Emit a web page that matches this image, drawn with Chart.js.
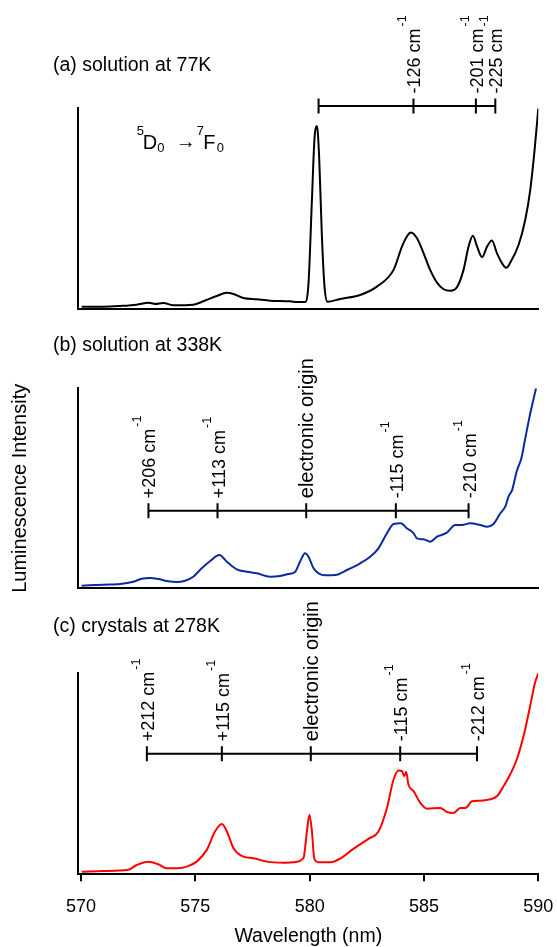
<!DOCTYPE html>
<html><head><meta charset="utf-8">
<script src="https://cdn.jsdelivr.net/npm/chart.js@4.4.1/dist/chart.umd.min.js"></script>
<style>
html,body{margin:0;padding:0;background:#fff;overflow:hidden;}
#wrap{position:relative;width:557px;height:947px;overflow:hidden;background:#fff;}
canvas{position:absolute;left:0;}
</style></head><body>
<div id="wrap">
<canvas id="cA" width="557" height="320" style="top:0px"></canvas>
<canvas id="cB" width="557" height="280" style="top:320px"></canvas>
<canvas id="cC" width="557" height="357" style="top:590px"></canvas>
</div>
<script>
const FONT = '"Liberation Sans", Arial, Helvetica, sans-serif';

// ---- data (wavelength nm, intensity arb. units) ----
const wavelengthA = [570.03,570.98,571.71,572.44,572.95,573.24,573.6,574.04,574.91,575.35,575.94,576.38,576.67,577.1,577.69,578.27,579.15,579.29,579.8,579.95,580.1,580.21,580.32,580.42,580.53,580.65,580.78,581.33,582.21,582.94,583.67,584.04,584.25,584.43,584.69,584.98,585.27,585.57,585.86,586.15,586.44,586.73,586.95,587.14,587.32,587.54,587.76,587.97,588.19,588.46,588.6,588.77,589.14,589.43,589.65,589.84,590];
const intensityA  = [2.3,2.3,3,4.3,6.3,5,6,3.7,4.3,7.7,13,16.3,15,11,9.7,8.3,7.7,7.3,7,25.7,109,169,182.3,149,75.7,22.3,7.3,10,14,22.3,39,62.3,72.3,76.3,70.7,55.7,39,26.3,19.7,18.3,21.7,39,62.3,73,62.3,51.7,62.3,68.3,55.7,44,41,46,64,89,119,159,200];

const wavelengthB = [570.03,570.98,571.71,572.29,572.66,573.02,573.38,573.75,574.19,574.55,574.91,575.28,575.65,576.05,576.38,576.81,577.25,577.69,578.27,578.71,579.07,579.37,579.58,579.8,579.95,580.17,580.39,580.68,581.12,581.63,582.21,582.65,583.01,583.38,583.67,583.99,584.25,584.55,584.69,584.98,585.27,585.57,586.0,586.37,586.66,587.02,587.46,587.76,588.04,588.34,588.56,588.7,588.85,589.07,589.26,589.43,589.65,589.9];
const intensityB  = [2.6,3.6,4.3,6.6,9.6,10.3,9.3,7.3,6.3,7.6,11.6,20,27.3,33.3,26.6,19,16.6,15,11.6,12.3,14.3,16.6,26.6,35,31.6,20,15,13,13.3,18.3,25,31.6,40,55,64.3,65,60,55,50,49,46.6,51.6,55.6,63.3,63.3,65,63.3,61.6,64.3,75,82,92,98,118,130,150,175,200];

const wavelengthC = [570.03,570.98,572.07,572.44,572.95,573.38,573.75,574.19,574.63,575.06,575.5,575.86,576.16,576.38,576.67,577.1,577.54,578.13,578.85,579.29,579.73,579.88,579.99,580.1,580.2,580.39,580.9,581.41,581.85,582.57,583.01,583.38,583.67,583.89,584.04,584.14,584.22,584.32,584.55,584.84,585.13,585.71,586.0,586.29,586.59,586.81,587.1,587.46,587.83,588.19,588.48,588.77,589.07,589.36,589.65,589.85,590];
const intensityC  = [2.6,3.3,4.6,9.3,12.6,10,6,6,7.6,12.6,24.3,42.6,50,42.6,26,17.6,16,12.6,11.6,12,16,42.6,59.3,42.6,16,12,12,16.6,24.3,35.3,42.6,66,94.3,103.3,102.6,97.6,102,89.3,82.6,71,65.3,66,62,61,66,66,72.6,73.3,74.3,77.6,87.6,99.3,115,138,168,190,200];

const xTickValues = [570,575,580,585,590];

// annotation brackets (nm) and labels
const bracketA = [580.39,584.54,587.27,588.12];
const bracketLabelsA = ['', '-126 cm', '-201 cm', '-225 cm'];
const bracketB = [572.95,575.97,579.85,583.77,586.95];
const bracketLabelsB = ['+206 cm','+113 cm','electronic origin','-115 cm','-210 cm'];
const bracketC = [572.88,576.16,580.05,583.96,587.32];
const bracketLabelsC = ['+212 cm','+115 cm','electronic origin','-115 cm','-212 cm'];
const bracketLevel = {A:202.3, B:77.6, C:120};

const panelTitles = {A:'(a) solution at 77K', B:'(b) solution at 338K', C:'(c) crystals at 278K'};

const X_MIN = 569.882, X_MAX = 590;

function rotLabel(ctx, x, yStart, text) {
  ctx.save();
  ctx.translate(x, yStart);
  ctx.rotate(-Math.PI/2);
  ctx.fillStyle = '#000';
  const isCm = text.endsWith('cm');
  ctx.font = `${isCm ? 18 : 20}px ${FONT}`;
  ctx.textAlign = 'left';
  ctx.textBaseline = 'alphabetic';
  ctx.fillText(text, 0, 7);
  if (isCm) {
    const w = ctx.measureText(text).width;
    ctx.font = `12.5px ${FONT}`;
    ctx.fillText('-1', w + 2, 7 - 14);
  }
  ctx.restore();
}

function annotPlugin(key, brackets, labels, titleY, extra) {
  return {
    id: 'annot' + key,
    afterDraw(chart) {
      const ctx = chart.ctx, xs = chart.scales.x, ys = chart.scales.y;
      const yb = ys.getPixelForValue(bracketLevel[key]);
      const px = brackets.map(v => xs.getPixelForValue(v));
      ctx.save();
      ctx.strokeStyle = '#000';
      ctx.lineWidth = 2;
      ctx.beginPath();
      ctx.moveTo(px[0], yb); ctx.lineTo(px[px.length-1], yb);
      px.forEach(p => { ctx.moveTo(p, yb - 7.5); ctx.lineTo(p, yb + 7.5); });
      ctx.stroke();
      labels.forEach((t, i) => { if (t) rotLabel(ctx, px[i], yb - 7.5 - 5, t); });
      // panel title
      ctx.fillStyle = '#000';
      ctx.font = `19.5px ${FONT}`;
      ctx.textAlign = 'left';
      ctx.textBaseline = 'middle';
      ctx.fillText(panelTitles[key], 53, titleY);
      if (extra) extra(ctx, xs, ys);
      ctx.restore();
    }
  };
}

function transitionLabel(ctx, xs, ys) {
  const x0 = xs.getPixelForValue(572.44);
  const yb = ys.getPixelForValue(159);
  ctx.fillStyle = '#000';
  ctx.textAlign = 'left';
  ctx.textBaseline = 'alphabetic';
  const big = `20px ${FONT}`, small = `13px ${FONT}`;
  ctx.font = small; ctx.fillText('5', x0, yb - 14);
  ctx.font = big;   ctx.fillText('D', x0 + 6, yb);
  ctx.font = small; ctx.fillText('0', x0 + 20.5, yb + 3);
  ctx.font = big;   ctx.fillText('\u2192', x0 + 39, yb - 1);
  ctx.font = small; ctx.fillText('7', x0 + 60, yb - 14);
  ctx.font = big;   ctx.fillText('F', x0 + 66.5, yb);
  ctx.font = small; ctx.fillText('0', x0 + 80, yb + 3);
}

function makeChart(id, xs, ys, color, opts, plugin) {
  return new Chart(document.getElementById(id), {
    type: 'line',
    data: { datasets: [{
      data: xs.map((x, i) => ({x, y: ys[i]})),
      borderColor: color, borderWidth: 2, pointRadius: 0, fill: false,
      cubicInterpolationMode: 'monotone'
    }]},
    options: {
      responsive: false, animation: false, events: [],
      layout: { padding: opts.padding },
      plugins: { legend: {display:false}, tooltip: {enabled:false}, title: {display:false} },
      scales: {
        x: {
          type: 'linear', min: X_MIN, max: X_MAX,
          afterBuildTicks: ax => { ax.ticks = xTickValues.map(v => ({value: v})); },
          border: {display: true, color: '#000', width: 2},
          grid: {display: !!opts.xTicks, drawOnChartArea: false, drawTicks: !!opts.xTicks, tickLength: 7, color: '#000', lineWidth: 2},
          ticks: {display: !!opts.xTicks, autoSkip: false, maxRotation: 0, padding: 3, color: '#000', font: {family: FONT, size: 18, lineHeight: 2.5}},
          title: {display: !!opts.xTicks, text: 'Wavelength (nm)', color: '#000', font: {family: FONT, size: 19.5}, padding: {top: -7.7, bottom: -1}}
        },
        y: {
          min: 0, max: 200,
          border: {display: true, color: '#000', width: 2},
          grid: {display: false, drawTicks: false},
          ticks: {display: false},
          title: {display: !!opts.yTitle, text: 'Luminescence Intensity', color: '#000', font: {family: FONT, size: 20}, padding: {top: 8, bottom: 46.3}}
        }
      }
    },
    plugins: [plugin]
  });
}

makeChart('cA', wavelengthA, intensityA, '#000000',
  {padding: {top: 108.3, left: 78.3, right: 18.7, bottom: 11}},
  annotPlugin('A', bracketA, bracketLabelsA, 66, transitionLabel));
makeChart('cB', wavelengthB, intensityB, '#0b2a9e',
  {padding: {top: 68.3, left: 0, right: 18.7, bottom: 11.7}, yTitle: true},
  annotPlugin('B', bracketB, bracketLabelsB, 26, null));
makeChart('cC', wavelengthC, intensityC, '#ff0000',
  {padding: {top: 83.3, left: 78.3, right: 18.7, bottom: 0}, xTicks: true},
  annotPlugin('C', bracketC, bracketLabelsC, 37, null));
</script>
</body></html>
